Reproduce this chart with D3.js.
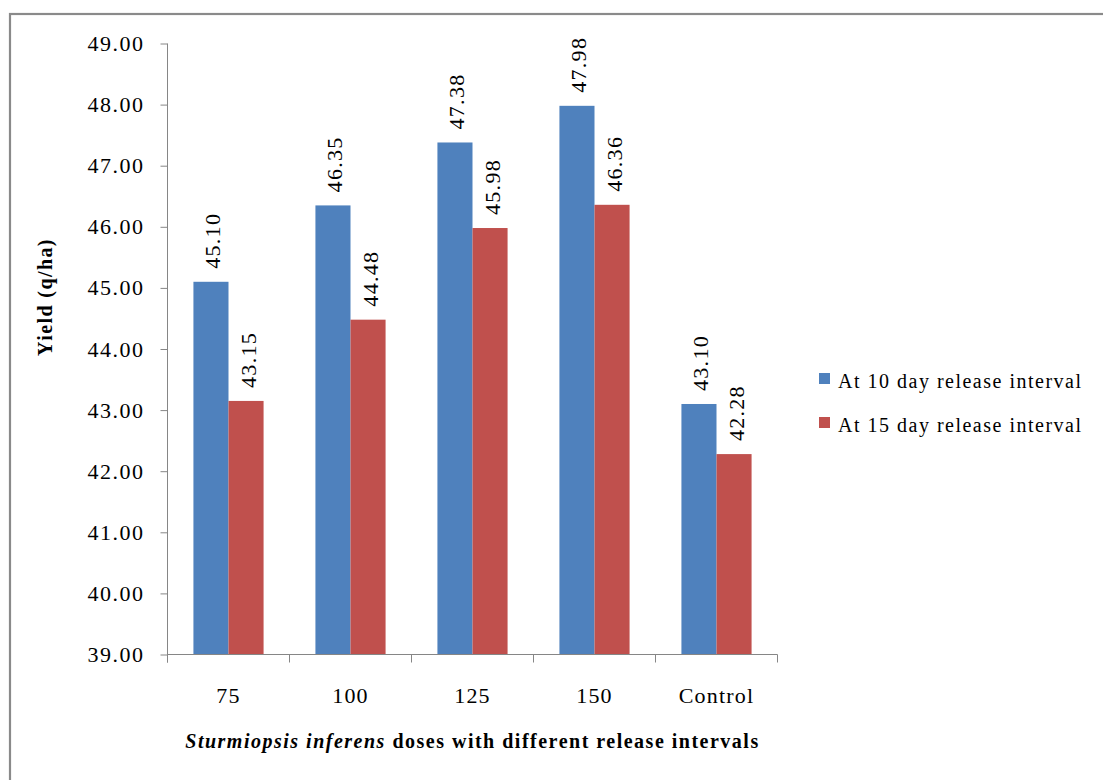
<!DOCTYPE html>
<html>
<head>
<meta charset="utf-8">
<script src="https://cdn.jsdelivr.net/npm/d3@7"></script>
<style>
  html, body { margin: 0; padding: 0; background: #ffffff; }
  svg { display: block; }
</style>
</head>
<body>
<svg id="chart" width="1103" height="780"></svg>
<script>
// Doses of Sturmiopsis inferens and yields for each release interval
const categories = ["75", "100", "125", "150", "Control"];
const interval10 = [45.10, 46.35, 47.38, 47.98, 43.10];
const interval15 = [43.15, 44.48, 45.98, 46.36, 42.28];
const seriesNames = ["At 10 day release interval", "At 15 day release interval"];
const yTicks = [39, 40, 41, 42, 43, 44, 45, 46, 47, 48, 49];

const colors = ["#4F81BD", "#C0504D"];
const serif = "'Liberation Serif', 'Times New Roman', Times, serif";

const svg = d3.select("#chart");

// outer frame (right and bottom edges run off the canvas)
svg.append("rect")
  .attr("x", 10).attr("y", 14)
  .attr("width", 1110).attr("height", 800)
  .attr("fill", "#ffffff")
  .attr("stroke", "#8a8a8a")
  .attr("stroke-width", 2.2);

const plot = { left: 167.5, right: 777.5, top: 43.5, bottom: 654.5 };

const x = d3.scaleBand()
  .domain(categories)
  .range([plot.left, plot.right])
  .paddingInner(0.425)
  .paddingOuter(0.2125);

const xOuter = d3.scaleBand()
  .domain(categories)
  .range([plot.left, plot.right]);

const y = d3.scaleLinear()
  .domain([39, 49])
  .range([plot.bottom, plot.top]);

const series = [interval10, interval15];
const barW = x.bandwidth() / 2;

// bars
series.forEach((vals, s) => {
  svg.append("g").selectAll("rect")
    .data(vals)
    .join("rect")
    .attr("x", (d, i) => x(categories[i]) + s * barW)
    .attr("y", d => y(d))
    .attr("width", barW)
    .attr("height", d => y(39) - y(d))
    .attr("fill", colors[s]);
});

// value labels, rotated above each bar
series.forEach((vals, s) => {
  svg.append("g").selectAll("text")
    .data(vals)
    .join("text")
    .attr("transform", (d, i) => {
      const cx = x(categories[i]) + s * barW + barW / 2 + 9.5;
      return `translate(${cx},${y(d) - 13}) rotate(-90)`;
    })
    .attr("text-anchor", "start")
    .style("font-family", serif)
    .style("font-size", "22px")
    .style("letter-spacing", "1.3px")
    .text(d => d.toFixed(2));
});

// y axis
const yAxis = d3.axisLeft(y)
  .tickValues(yTicks)
  .tickSize(7)
  .tickPadding(16)
  .tickFormat(d => d.toFixed(2));

const gy = svg.append("g")
  .attr("transform", `translate(${plot.left},0)`)
  .call(yAxis)
  .attr("font-family", null)
  .attr("font-size", null);
gy.select(".domain").attr("stroke", "#868686").attr("d", `M0,${plot.top}V${plot.bottom + 8}`);
gy.selectAll(".tick line").attr("stroke", "#868686");
gy.selectAll(".tick text")
  .attr("fill", "#000")
  .style("font-family", serif)
  .style("font-size", "22px")
  .style("letter-spacing", "1.5px");

// x axis: ticks at category boundaries
const gx = svg.append("g")
  .attr("transform", `translate(0,${plot.bottom})`);
gx.append("line")
  .attr("x1", plot.left).attr("x2", plot.right)
  .attr("stroke", "#868686");
const boundaries = categories.map(c => xOuter(c)).concat([plot.right]);
gx.selectAll("line.tick")
  .data(boundaries)
  .join("line")
  .attr("class", "tick")
  .attr("x1", d => d).attr("x2", d => d)
  .attr("y1", 0).attr("y2", 8)
  .attr("stroke", "#868686");
gx.selectAll("text")
  .data(categories)
  .join("text")
  .attr("x", d => xOuter(d) + xOuter.bandwidth() / 2)
  .attr("y", 48)
  .attr("text-anchor", "middle")
  .style("font-family", serif)
  .style("font-size", "22px")
  .style("letter-spacing", "1.2px")
  .text(d => d);

// axis titles
svg.append("text")
  .attr("transform", "translate(52,297) rotate(-90)")
  .attr("text-anchor", "middle")
  .style("font-family", serif)
  .style("font-size", "20px")
  .style("font-weight", "bold")
  .style("letter-spacing", "1.4px")
  .text("Yield (q/ha)");

const xTitle = svg.append("text")
  .attr("x", (plot.left + plot.right) / 2)
  .attr("y", 748)
  .attr("text-anchor", "middle")
  .style("font-family", serif)
  .style("font-size", "20px")
  .style("font-weight", "bold")
  .style("letter-spacing", "1.5px");
xTitle.append("tspan").style("font-style", "italic").text("Sturmiopsis inferens");
xTitle.append("tspan").text(" doses with different release intervals");

// legend
const legend = svg.append("g").attr("transform", "translate(819,373)");
seriesNames.forEach((name, i) => {
  const row = legend.append("g").attr("transform", `translate(0,${i * 44})`);
  row.append("rect")
    .attr("width", 11).attr("height", 11)
    .attr("fill", colors[i]);
  row.append("text")
    .attr("x", 19).attr("y", 15)
    .style("font-family", serif)
    .style("font-size", "20px")
    .style("letter-spacing", "1.5px")
    .text(name);
});
</script>
</body>
</html>
